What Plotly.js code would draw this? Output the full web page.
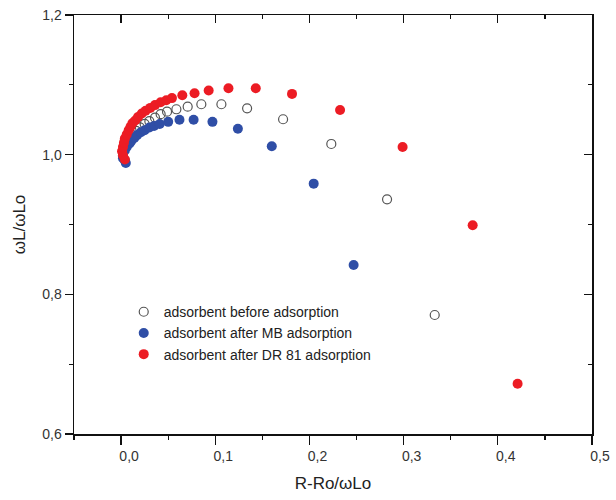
<!DOCTYPE html>
<html>
<head>
<meta charset="utf-8">
<script src="https://cdn.plot.ly/plotly-3.0.1.min.js"></script>
<style>html,body{margin:0;padding:0;background:#fff;}#chart{width:616px;height:500px;}</style>
</head>
<body>
<div id="chart"></div>
<script>
// Series: adsorbent before adsorption (open circles)
const beforeX = [0.004, 0.002, 0.002, 0.004, 0.006, 0.009, 0.012, 0.016, 0.020, 0.025, 0.030, 0.036, 0.042, 0.0488, 0.0587, 0.0707, 0.0852, 0.1065, 0.1338, 0.172, 0.2232, 0.2824, 0.333];
const beforeY = [0.992, 0.998, 1.004, 1.010, 1.016, 1.022, 1.028, 1.034, 1.039, 1.044, 1.048, 1.053, 1.058, 1.0616, 1.065, 1.0687, 1.0722, 1.0722, 1.0664, 1.0507, 1.0153, 0.9361, 0.7704];
// Series: adsorbent after MB adsorption (blue)
const mbX = [0.005, 0.002, 0.002, 0.004, 0.006, 0.009, 0.011, 0.014, 0.017, 0.021, 0.025, 0.030, 0.035, 0.041, 0.050, 0.062, 0.077, 0.097, 0.124, 0.160, 0.2045, 0.2469];
const mbY = [0.988, 0.995, 1.001, 1.006, 1.011, 1.016, 1.020, 1.024, 1.028, 1.032, 1.035, 1.039, 1.041, 1.044, 1.047, 1.050, 1.050, 1.047, 1.037, 1.012, 0.9585, 0.842];
// Series: adsorbent after DR 81 adsorption (red)
const drX = [0.004, 0.002, 0.001, 0.002, 0.003, 0.004, 0.006, 0.008, 0.010, 0.012, 0.015, 0.018, 0.022, 0.026, 0.031, 0.036, 0.042, 0.048, 0.054, 0.065, 0.078, 0.093, 0.114, 0.143, 0.1815, 0.2325, 0.2989, 0.3733, 0.421];
const drY = [0.993, 0.999, 1.005, 1.011, 1.017, 1.023, 1.029, 1.035, 1.040, 1.045, 1.049, 1.054, 1.059, 1.063, 1.067, 1.071, 1.075, 1.078, 1.081, 1.085, 1.088, 1.092, 1.095, 1.095, 1.087, 1.064, 1.011, 0.899, 0.672];

const seriesNames = ['adsorbent before adsorption', 'adsorbent after MB adsorption', 'adsorbent after DR 81 adsorption'];
const xTitle = 'R-Ro/ωLo';
const yTitle = 'ωL/ωLo';

const font = 'Liberation Sans, Arial, sans-serif';

const traces = [
  {x: beforeX, y: beforeY, name: seriesNames[0], type: 'scatter', mode: 'markers',
   marker: {symbol: 'circle-open', size: 9, color: '#555555', line: {width: 1.2, color: '#555555'}}},
  {x: mbX, y: mbY, name: seriesNames[1], type: 'scatter', mode: 'markers',
   marker: {symbol: 'circle', size: 10, color: '#2f4ea6'}},
  {x: drX, y: drY, name: seriesNames[2], type: 'scatter', mode: 'markers',
   marker: {symbol: 'circle', size: 10, color: '#ec1c24'}},
  {x: [], y: [], xaxis: 'x2', yaxis: 'y2', showlegend: false, hoverinfo: 'skip', type: 'scatter', mode: 'markers'}
];

const layout = {
  width: 616, height: 500,
  margin: {l: 74, r: 24, t: 15, b: 66},
  paper_bgcolor: '#fff', plot_bgcolor: '#fff',
  separators: ', ',
  font: {family: font, color: '#222', size: 14},
  showlegend: true,
  legend: {x: 0.096, y: 0.329, xanchor: 'left', yanchor: 'top', bgcolor: 'rgba(0,0,0,0)',
           font: {family: font, size: 14, color: '#222'}, tracegroupgap: 0},
  xaxis: {
    range: [-0.05, 0.5], tick0: 0, dtick: 0.1, tickformat: '.1f',
    showgrid: false, zeroline: false,
    showline: true, linecolor: '#111', linewidth: 1.5, mirror: true,
    ticks: 'outside', ticklen: 9, tickwidth: 1.3, tickcolor: '#111',
    minor: {ticks: 'outside', ticklen: 4, tickwidth: 1.3, tickcolor: '#111', dtick: 0.05, tick0: 0, showgrid: false},
    tickfont: {family: font, size: 14, color: '#333'},
    ticklabelshift: 8,
    title: {text: xTitle, font: {family: font, size: 17, color: '#222'}, standoff: 14}
  },
  yaxis: {
    range: [0.6, 1.2], tick0: 0.6, dtick: 0.2, tickformat: '.1f',
    showgrid: false, zeroline: false,
    showline: true, linecolor: '#111', linewidth: 1.5, mirror: true,
    ticks: 'outside', ticklen: 8, tickwidth: 1.3, tickcolor: '#111',
    minor: {ticks: 'outside', ticklen: 4, tickwidth: 1.3, tickcolor: '#111', dtick: 0.1, tick0: 0.6, showgrid: false},
    tickfont: {family: font, size: 14, color: '#333'},
    title: {text: yTitle, font: {family: font, size: 17, color: '#222'}, standoff: 12}
  },
  xaxis2: {
    overlaying: 'x', side: 'top', anchor: 'y2', range: [-0.05, 0.5], tick0: 0, dtick: 0.1,
    showticklabels: false, showgrid: false, zeroline: false, showline: false,
    ticks: 'inside', ticklen: 8, tickwidth: 1.3, tickcolor: '#111',
    minor: {ticks: 'inside', ticklen: 4, tickwidth: 1.3, tickcolor: '#111', dtick: 0.05, tick0: 0, showgrid: false}
  },
  yaxis2: {
    overlaying: 'y', side: 'right', anchor: 'x2', range: [0.6, 1.2], tick0: 0.6, dtick: 0.2,
    showticklabels: false, showgrid: false, zeroline: false, showline: false,
    ticks: 'inside', ticklen: 8, tickwidth: 1.3, tickcolor: '#111',
    minor: {ticks: 'inside', ticklen: 4, tickwidth: 1.3, tickcolor: '#111', dtick: 0.1, tick0: 0.6, showgrid: false}
  }
};

Plotly.newPlot('chart', traces, layout, {staticPlot: true, displayModeBar: false});
</script>
</body>
</html>
